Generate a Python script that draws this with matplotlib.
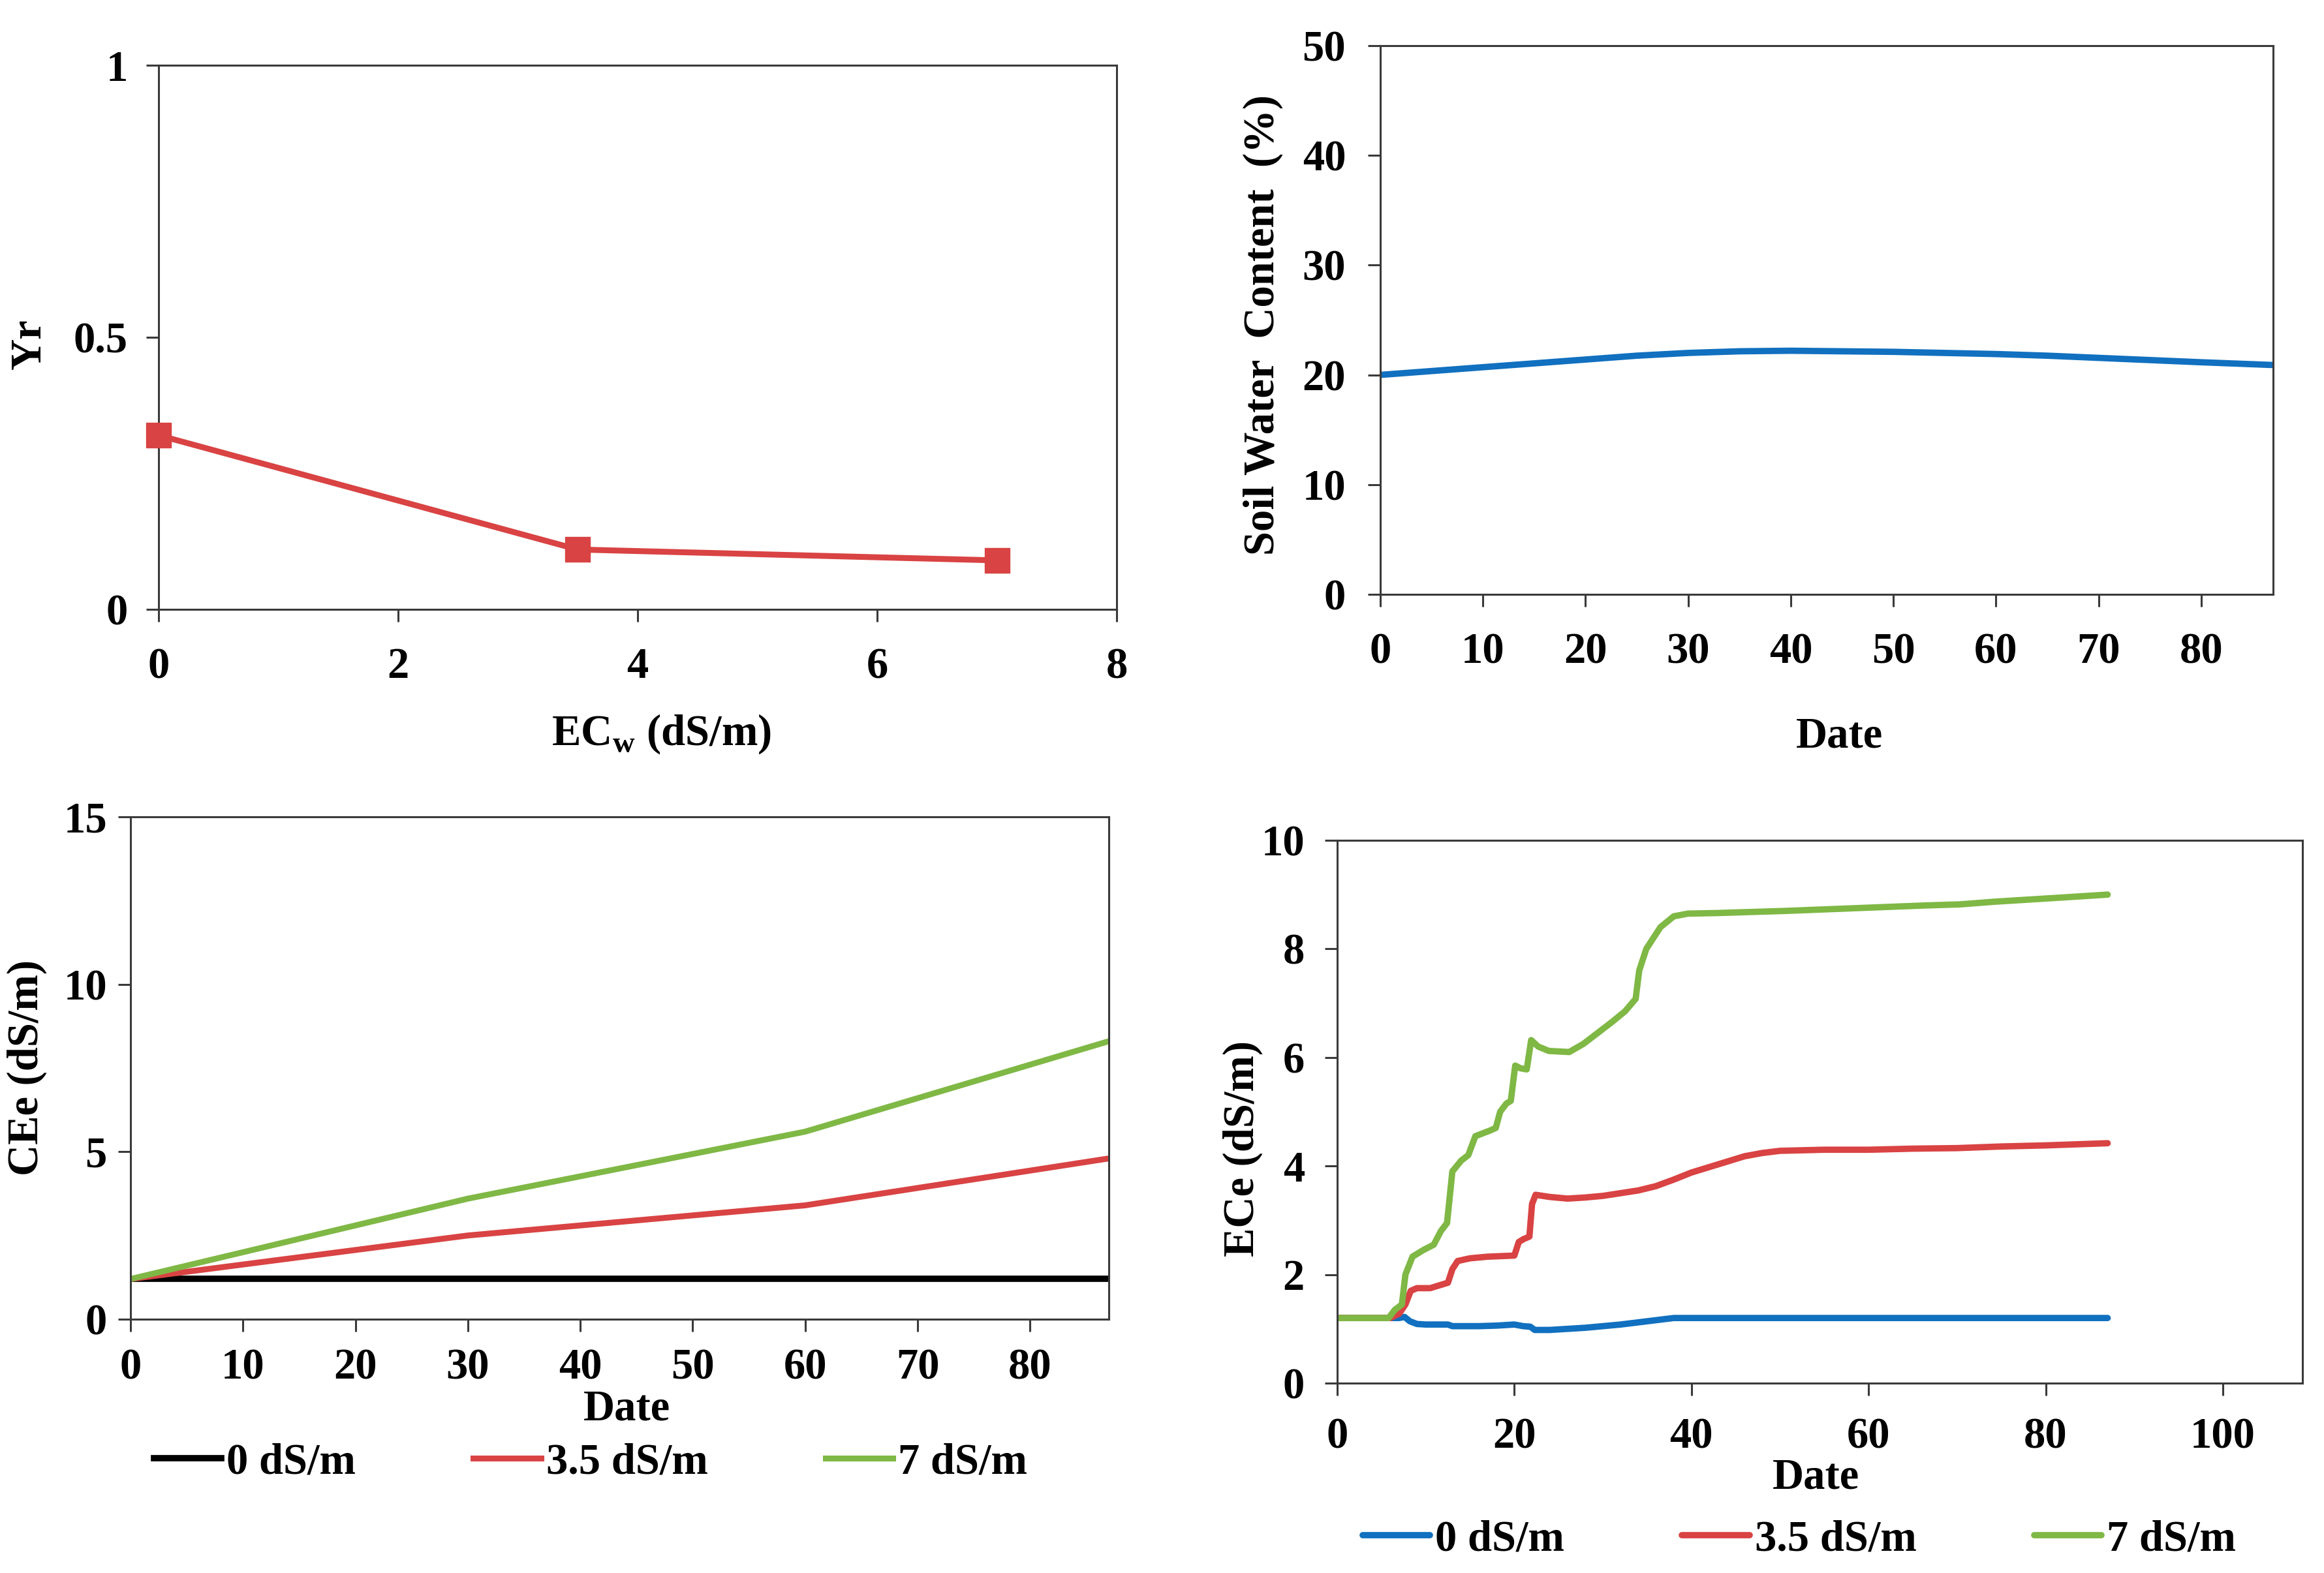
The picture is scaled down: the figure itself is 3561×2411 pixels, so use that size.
import matplotlib
matplotlib.use("Agg")
import matplotlib.pyplot as plt
from matplotlib.ticker import FuncFormatter

# ---------------- data ----------------
ecw = [0, 3.5, 7]
yr = [0.32, 0.11, 0.09]

swc_days = [0, 5, 10, 15, 20, 25, 30, 35, 40, 45, 50, 55, 60, 65, 70, 75, 80, 87]
swc = [20.0, 20.35, 20.7, 21.05, 21.4, 21.75, 22.0, 22.15, 22.2, 22.15, 22.1, 22.0,
       21.9, 21.75, 21.55, 21.35, 21.15, 20.9]

cee_days = [0, 30, 60, 87]
cee_0 = [1.2, 1.2, 1.2, 1.2]
cee_35 = [1.2, 2.5, 3.4, 4.8]
cee_7 = [1.2, 3.6, 5.6, 8.3]

ece0_x = [0, 6, 7, 7.6, 8.2, 9, 10, 12.5, 13, 16, 18, 20, 21, 21.8, 22.3, 24, 26, 28,
          30, 32, 34, 36, 38, 40, 60, 87]
ece0_y = [1.2, 1.2, 1.2, 1.22, 1.14, 1.09, 1.08, 1.08, 1.05, 1.05, 1.06, 1.08, 1.05,
          1.04, 0.98, 0.98, 1.0, 1.02, 1.05, 1.08, 1.12, 1.16, 1.2, 1.2, 1.2, 1.2]

ece35_x = [0, 6, 7, 7.7, 8.3, 9, 10.5, 11.5, 12.5, 13, 13.6, 15, 17, 20, 20.5, 21, 21.7,
           22.0, 22.4, 24, 26, 28, 30, 32, 34, 36, 38, 40, 42, 44, 46, 48, 50, 55, 60,
           65, 70, 75, 80, 87]
ece35_y = [1.2, 1.2, 1.28, 1.45, 1.7, 1.75, 1.75, 1.8, 1.85, 2.1, 2.25, 2.3, 2.33, 2.35,
           2.6, 2.65, 2.7, 3.3, 3.47, 3.43, 3.4, 3.42, 3.45, 3.5, 3.55, 3.63, 3.75, 3.88,
           3.98, 4.08, 4.18, 4.24, 4.28, 4.3, 4.3, 4.32, 4.33, 4.36, 4.38, 4.42]

ece7_x = [0, 5.8, 6.5, 7.3, 7.7, 8.5, 9.7, 10.9, 11.7, 12.4, 13, 14, 14.8, 15.6, 17.2,
          17.9, 18.4, 19.1, 19.6, 20.1, 20.7, 21.4, 21.9, 22.7, 23.9, 26.2, 27.8, 29.4,
          31, 32.5, 33.7, 34.1, 34.9, 36.5, 38, 39.6, 42.8, 50.7, 58.5, 66.4, 70.3, 74.3,
          82.2, 87]
ece7_y = [1.2, 1.2, 1.35, 1.45, 2.0, 2.33, 2.45, 2.55, 2.8, 2.95, 3.9, 4.1, 4.2, 4.55,
          4.65, 4.7, 5.0, 5.15, 5.2, 5.85, 5.8, 5.78, 6.32, 6.2, 6.12, 6.1, 6.25, 6.45,
          6.65, 6.85, 7.08, 7.6, 8.0, 8.4, 8.6, 8.65, 8.66, 8.7, 8.75, 8.8, 8.82, 8.87,
          8.95, 9.0]

legend_labels = ["0 dS/m", "3.5 dS/m", "7 dS/m"]

# ---------------- style ----------------
plt.rcParams['font.family'] = ['Liberation Serif', 'DejaVu Serif']
plt.rcParams['font.weight'] = 'bold'
plt.rcParams['mathtext.fontset'] = 'custom'
plt.rcParams['mathtext.rm'] = 'Liberation Serif:bold'
plt.rcParams['mathtext.bf'] = 'Liberation Serif:bold'

RED = '#D94343'
GREEN = '#7FB845'
BLUE = '#1170BF'
SP = '#3a3a3a'
FS = 48
TFS = 48

W, H = 3562, 2411
fig = plt.figure(figsize=(W / 100, H / 100), dpi=100)


def box(l, t, r, b):
    return [l / W, 1 - b / H, (r - l) / W, (b - t) / H]


def style(ax, xpad, ypad):
    for s in ax.spines.values():
        s.set_linewidth(2.2)
        s.set_color(SP)
    ax.tick_params(direction='out', length=14, width=2.2, color=SP,
                   labelsize=TFS)
    ax.tick_params(axis='x', pad=xpad)
    ax.tick_params(axis='y', pad=ypad)
    for lab in ax.get_xticklabels() + ax.get_yticklabels():
        lab.set_fontweight('bold')


fmt = FuncFormatter(lambda v, p: ('%g' % v))

# --- top-left ---
ax1 = fig.add_axes(box(243, 100, 1711, 934))
ax1.plot(ecw, yr, color=RED, lw=6.5, marker='s', ms=28, clip_on=False, zorder=5)
ax1.set_xlim(0, 8)
ax1.set_ylim(0, 1)
ax1.set_xticks([0, 2, 4, 6, 8])
ax1.set_yticks([0, 0.5, 1])
ax1.yaxis.set_major_formatter(fmt)
style(ax1, 28, 20)
fig.text(45 / W, 1 - 527 / H, 'Yr', rotation=90, ha='center', va='center',
         fontsize=FS, fontweight='bold')
fig.text(1013 / W, 1 - 1125 / H, r'EC$_{\mathrm{w}}$ (dS/m)', ha='center', va='center',
         fontsize=FS, fontweight='bold')

# --- top-right ---
ax2 = fig.add_axes(box(2115, 70, 3483, 911))
ax2.plot(swc_days, swc, color=BLUE, lw=7)
ax2.set_xlim(0, 87)
ax2.set_ylim(0, 50)
ax2.set_xticks(range(0, 81, 10))
ax2.set_yticks(range(0, 51, 10))
style(ax2, 28, 24)
fig.text(1935 / W, 1 - 498 / H, 'Soil Water  Content  (%)', rotation=90, ha='center',
         va='center', fontsize=FS, fontweight='bold')
fig.text(2819 / W, 1 - 1129 / H, 'Date', ha='center', va='center', fontsize=FS,
         fontweight='bold')

# --- bottom-left ---
ax3 = fig.add_axes(box(200, 1252, 1699, 2022))
h0, = ax3.plot(cee_days, cee_0, color='black', lw=7, label=legend_labels[0])
h1, = ax3.plot(cee_days, cee_35, color=RED, lw=6.5, label=legend_labels[1])
h2, = ax3.plot(cee_days, cee_7, color=GREEN, lw=6.5, label=legend_labels[2])
ax3.set_xlim(0, 87)
ax3.set_ylim(0, 15)
ax3.set_xticks(range(0, 81, 10))
ax3.set_yticks([0, 5, 10, 15])
style(ax3, 18, 12)
fig.text(41 / W, 1 - 1636 / H, 'CEe (dS/m)', rotation=90, ha='center', va='center',
         fontsize=FS, fontweight='bold')
fig.text(961 / W, 1 - 2160 / H, 'Date', ha='center', va='center', fontsize=FS,
         fontweight='bold')
fig.legend(handles=[h0, h1, h2], loc='center', ncol=3,
           bbox_to_anchor=(905 / W, 1 - 2242 / H), frameon=False,
           prop={'size': FS, 'weight': 'bold'}, handlelength=1.55,
           handletextpad=0.12, columnspacing=2.7, borderpad=0)

# --- bottom-right ---
ax4 = fig.add_axes(box(2049, 1288, 3528, 2120))
g0, = ax4.plot(ece0_x, ece0_y, color=BLUE, lw=7, label=legend_labels[0],
               solid_capstyle='round')
g1, = ax4.plot(ece35_x, ece35_y, color=RED, lw=7, label=legend_labels[1],
               solid_capstyle='round')
g2, = ax4.plot(ece7_x, ece7_y, color=GREEN, lw=7, label=legend_labels[2],
               solid_capstyle='round')
ax4.set_xlim(0, 109)
ax4.set_ylim(0, 10)
ax4.set_xticks(range(0, 101, 20))
ax4.set_yticks(range(0, 11, 2))
style(ax4, 24, 22)
fig.text(1904 / W, 1 - 1760 / H, 'ECe (dS/m)', rotation=90, ha='center', va='center',
         fontsize=FS, fontweight='bold')
fig.text(2783 / W, 1 - 2265 / H, 'Date', ha='center', va='center', fontsize=FS,
         fontweight='bold')
fig.legend(handles=[g0, g1, g2], loc='center', ncol=3,
           bbox_to_anchor=(2757 / W, 1 - 2360 / H), frameon=False,
           prop={'size': FS, 'weight': 'bold'}, handlelength=1.55,
           handletextpad=0.12, columnspacing=2.7, borderpad=0)

fig.savefig('out.png', dpi=100)
